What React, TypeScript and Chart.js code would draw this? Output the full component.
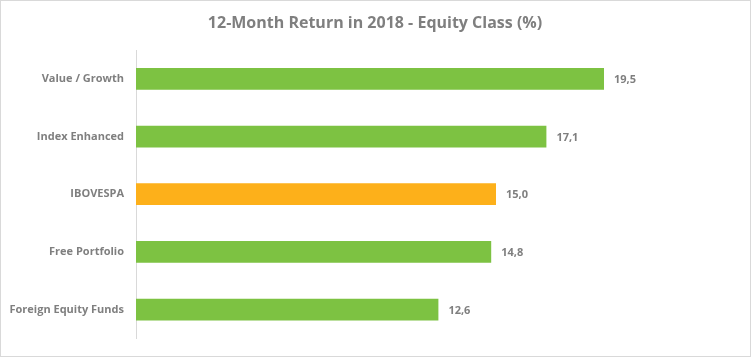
import React, { useEffect, useRef } from "react";
import { Chart, registerables } from "chart.js";

Chart.register(...registerables);

const categories = ["Value / Growth", "Index Enhanced", "IBOVESPA", "Free Portfolio", "Foreign Equity Funds"];
const values = [19.5, 17.1, 15.0, 14.8, 12.6];
const barColors = ["#7DC242", "#7DC242", "#FDB01A", "#7DC242", "#7DC242"];
const titleText = "12-Month Return in 2018 - Equity Class (%)";

const TEXT = "#7F7F7F";
const FONT = "'Open Sans', sans-serif";

const decor = {
  id: "decor",
  afterDraw(chart: any) {
    const ctx = chart.ctx;
    ctx.save();
    ctx.strokeStyle = "#D9D9D9";
    ctx.lineWidth = 1;
    ctx.strokeRect(0.5, 0.5, chart.width - 1, chart.height - 1);
    ctx.fillStyle = TEXT;
    ctx.font = `bold 16px ${FONT}`;
    ctx.textAlign = "center";
    ctx.textBaseline = "middle";
    ctx.fillText(titleText, 375, 23);
    ctx.font = `bold 11px ${FONT}`;
    ctx.textAlign = "left";
    const meta = chart.getDatasetMeta(0);
    meta.data.forEach((bar: any, i: number) => {
      ctx.fillText(values[i].toFixed(1).replace(".", ","), bar.x + 10, bar.y + 1);
    });
    ctx.restore();
  },
};

export default function App() {
  const ref = useRef<HTMLCanvasElement>(null);
  useEffect(() => {
    document.body.style.margin = "0";
    const chart = new Chart(ref.current!, {
      type: "bar",
      data: {
        labels: categories,
        datasets: [{ data: values, backgroundColor: barColors, barPercentage: 0.377, categoryPercentage: 1 }],
      },
      options: {
        indexAxis: "y",
        animation: false,
        responsive: false,
        layout: { padding: { top: 50, bottom: 15, right: 15, left: 0 } },
        plugins: { legend: { display: false }, tooltip: { enabled: false }, title: { display: false } },
        scales: {
          x: { display: false, min: 0, max: 25 },
          y: {
            afterFit: (s: any) => { s.width = 136; },
            grid: { display: false, drawTicks: false },
            border: { color: "#D9D9D9", width: 1 },
            ticks: { color: TEXT, font: { family: FONT, size: 11, weight: "bold" }, padding: 12 },
          },
        },
      },
      plugins: [decor],
    });
    return () => chart.destroy();
  }, []);
  return <canvas ref={ref} width={751} height={357} style={{ display: "block" }} />;
}
